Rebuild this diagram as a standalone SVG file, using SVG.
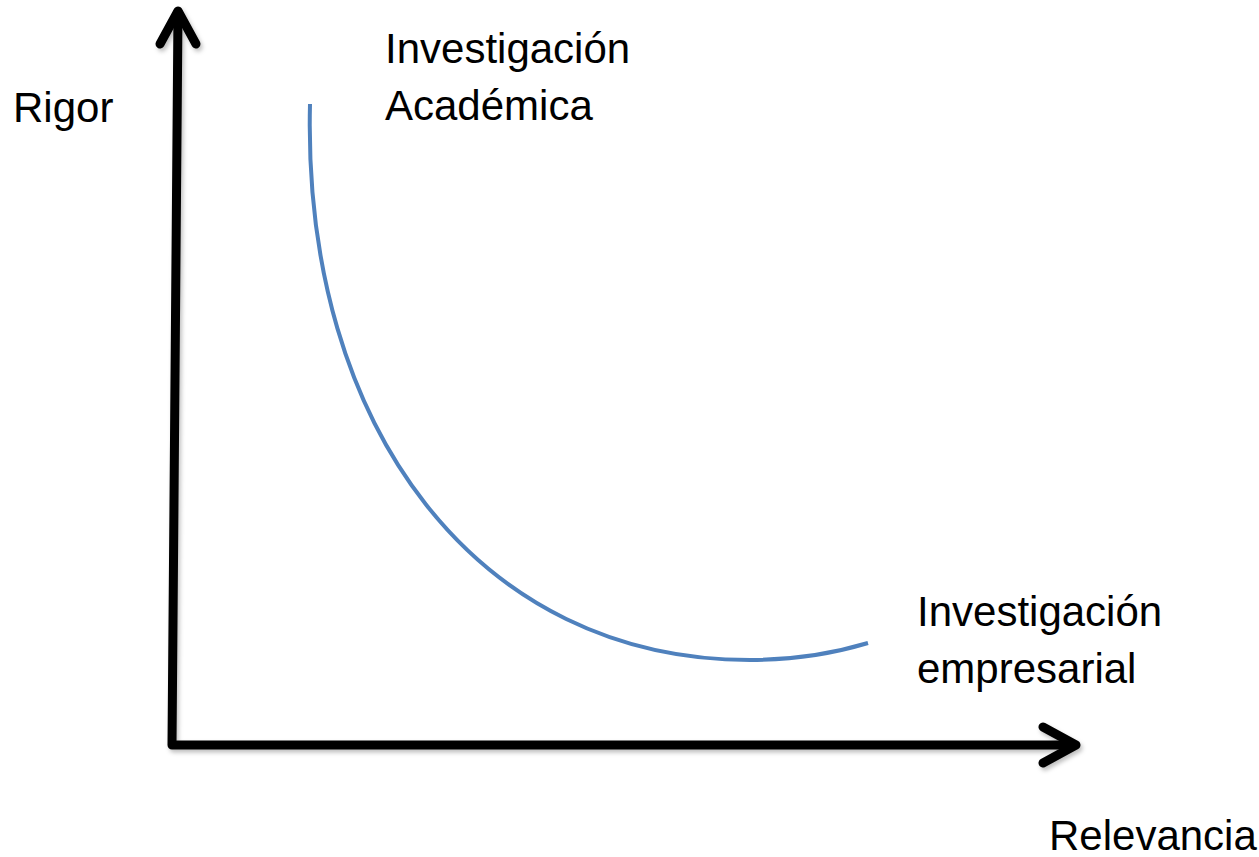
<svg xmlns="http://www.w3.org/2000/svg" width="1259" height="857" viewBox="0 0 1259 857">
  <defs>
    <filter id="sh" x="-10%" y="-10%" width="120%" height="120%">
      <feDropShadow dx="2" dy="3" stdDeviation="2" flood-color="#000" flood-opacity="0.25"/>
    </filter>
  </defs>
  <style>
    .axis { fill: none; stroke: #000; stroke-width: 9; stroke-linecap: round; stroke-linejoin: round; }
    .curve { fill: none; stroke: #4F81BD; stroke-width: 4; }
    .lbl { font-family: "Liberation Sans", Arial, sans-serif; font-size: 42px; fill: #000; }
  </style>
  <rect width="1259" height="857" fill="#fff"/>
  <g id="connectors" filter="url(#sh)">
    <path class="axis" d="M178,12 L172,745 L1072,745" stroke-linecap="butt"/>
    <path class="axis" d="M160,44 L178,11 L196,44"/>
    <path class="axis" d="M1043,727 L1076,745 L1043,763"/>
  </g>
  <g id="curve">
    <path class="curve" d="M310,104 C302,430 480,660 750,660 C800,660 838,652 868,643"/>
  </g>
  <g id="label-rigor"><text class="lbl" x="13" y="122">Rigor</text></g>
  <g id="label-academica">
    <text class="lbl" x="385" y="63">Investigación</text>
    <text class="lbl" x="385" y="120">Académica</text>
  </g>
  <g id="label-empresarial">
    <text class="lbl" x="917" y="626">Investigación</text>
    <text class="lbl" x="917" y="683">empresarial</text>
  </g>
  <g id="label-relevancia"><text class="lbl" x="1049" y="850">Relevancia</text></g>
</svg>
